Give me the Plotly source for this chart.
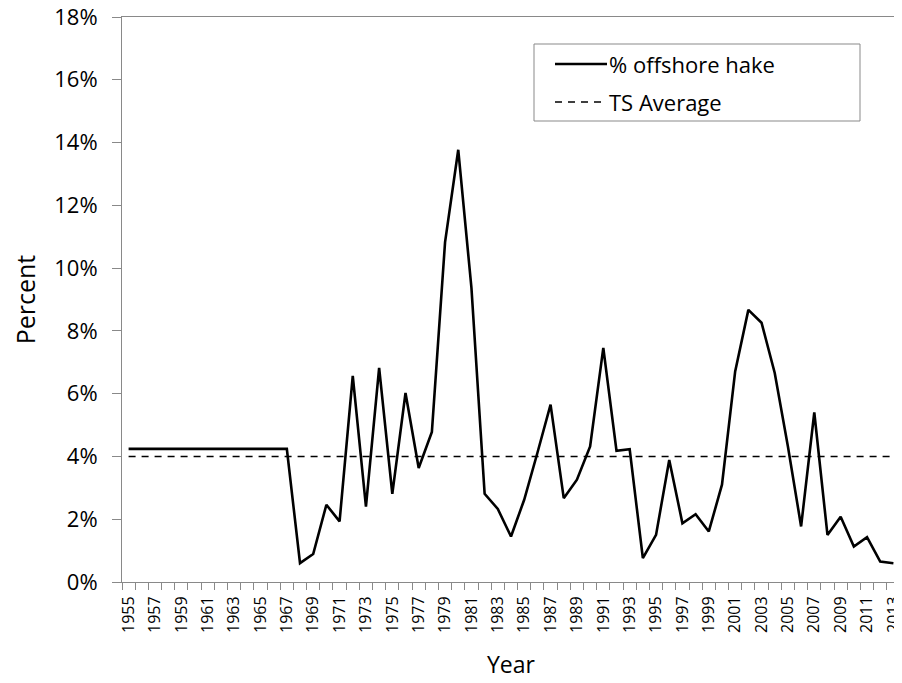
import plotly.graph_objects as go

years = list(range(1955, 2014))
offshore_hake = [
    4.24, 4.24, 4.24, 4.24, 4.24, 4.24, 4.24, 4.24, 4.24, 4.24, 4.24, 4.24, 4.24,  # 1955-1967
    0.60, 0.89, 2.46, 1.93, 6.57, 2.40, 6.82, 2.81, 6.02, 3.63,  # 1968-1977
    4.78, 10.83, 13.77, 9.37, 2.81, 2.33, 1.45, 2.62, 4.11, 5.65,  # 1978-1987
    2.67, 3.26, 4.32, 7.46, 4.18, 4.23, 0.76, 1.50, 3.89, 1.87,  # 1988-1997
    2.16, 1.61, 3.10, 6.71, 8.67, 8.26, 6.66, 4.32, 1.77, 5.40,  # 1998-2007
    1.50, 2.08, 1.13, 1.43, 0.65, 0.60,  # 2008-2013
]
ts_average = 4.0
tick_years = [y for y in years if (y - 1955) % 2 == 0]
tick_labels = [str(y) for y in tick_years]
y_ticks = [0, 2, 4, 6, 8, 10, 12, 14, 16, 18]
legend_names = ["% offshore hake", "TS Average"]

FONT = "Open Sans"
GREY = "#898989"
# The page body has an 8px default margin; size the figure to fill the 902x683 window.
OFF = 8
W, H = 902 - OFF, 683 - OFF
ML, MR, MT, MB = 122 - OFF, 2, 17 - OFF, 101
PW, PH = W - ML - MR, H - MT - MB


def px_x(x):
    # window pixel x -> paper fraction
    return (x - OFF - ML) / PW


def px_y(y):
    # window pixel y -> paper fraction
    return (OFF + H - MB - y) / PH


fig = go.Figure()
fig.add_trace(go.Scatter(
    x=years, y=offshore_hake, mode="lines", name=legend_names[0],
    line=dict(color="black", width=2.6), showlegend=False,
))
fig.add_trace(go.Scatter(
    x=years, y=[ts_average] * len(years), mode="lines", name=legend_names[1],
    line=dict(color="black", width=1.5, dash="7px,6px"), showlegend=False,
))

# Manual legend box (Excel-style)
shapes = [
    dict(type="rect", xref="paper", yref="paper",
         x0=px_x(534), x1=px_x(860), y0=px_y(121), y1=px_y(44),
         line=dict(color=GREY, width=1), fillcolor="white", layer="above"),
    dict(type="line", xref="paper", yref="paper",
         x0=px_x(555), x1=px_x(607), y0=px_y(64), y1=px_y(64),
         line=dict(color="black", width=2.6), layer="above"),
    dict(type="line", xref="paper", yref="paper",
         x0=px_x(555), x1=px_x(605), y0=px_y(102), y1=px_y(102),
         line=dict(color="black", width=1.5, dash="7px,6px"), layer="above"),
]
annotations = [
    dict(text=legend_names[0], xref="paper", yref="paper", x=px_x(607), y=px_y(64),
         xanchor="left", yanchor="middle", showarrow=False,
         font=dict(size=22, family=FONT, color="black")),
    dict(text=legend_names[1], xref="paper", yref="paper", x=px_x(607), y=px_y(102),
         xanchor="left", yanchor="middle", showarrow=False,
         font=dict(size=22, family=FONT, color="black")),
]

fig.update_layout(
    width=W, height=H,
    margin=dict(l=ML, r=MR, t=MT, b=MB, autoexpand=False),
    paper_bgcolor="white", plot_bgcolor="white",
    font=dict(family=FONT, color="black"),
    showlegend=False,
    shapes=shapes, annotations=annotations,
    xaxis=dict(
        range=[1954.5, 2013.5], automargin=False, ticklabeloverflow="allow",
        tickmode="array", tickvals=tick_years, ticktext=tick_labels,
        tickangle=-90, tickfont=dict(size=16, family=FONT),
        ticks="outside", ticklen=7, tickcolor="rgba(0,0,0,0)",
        minor=dict(tickmode="array", tickvals=[y - 0.5 for y in years] + [2013.5],
                   ticks="outside", ticklen=7, tickcolor=GREY, tickwidth=1),
        showline=True, linecolor=GREY, linewidth=1, mirror=True,
        showgrid=False, zeroline=False,
        title=dict(text="Year", font=dict(size=23, family=FONT), standoff=24),
    ),
    yaxis=dict(
        range=[0, 18], automargin=False, ticklabeloverflow="allow",
        tickmode="array", tickvals=y_ticks,
        ticktext=[f"{v}%" for v in y_ticks],
        tickfont=dict(size=22, family=FONT),
        ticks="outside", ticklen=9, tickcolor=GREY, ticklabelstandoff=10,
        showline=True, linecolor=GREY, linewidth=1, mirror=True,
        showgrid=False, zeroline=False,
        title=dict(text="Percent", font=dict(size=25, family=FONT), standoff=14),
    ),
)

fig.write_html("out.html")
